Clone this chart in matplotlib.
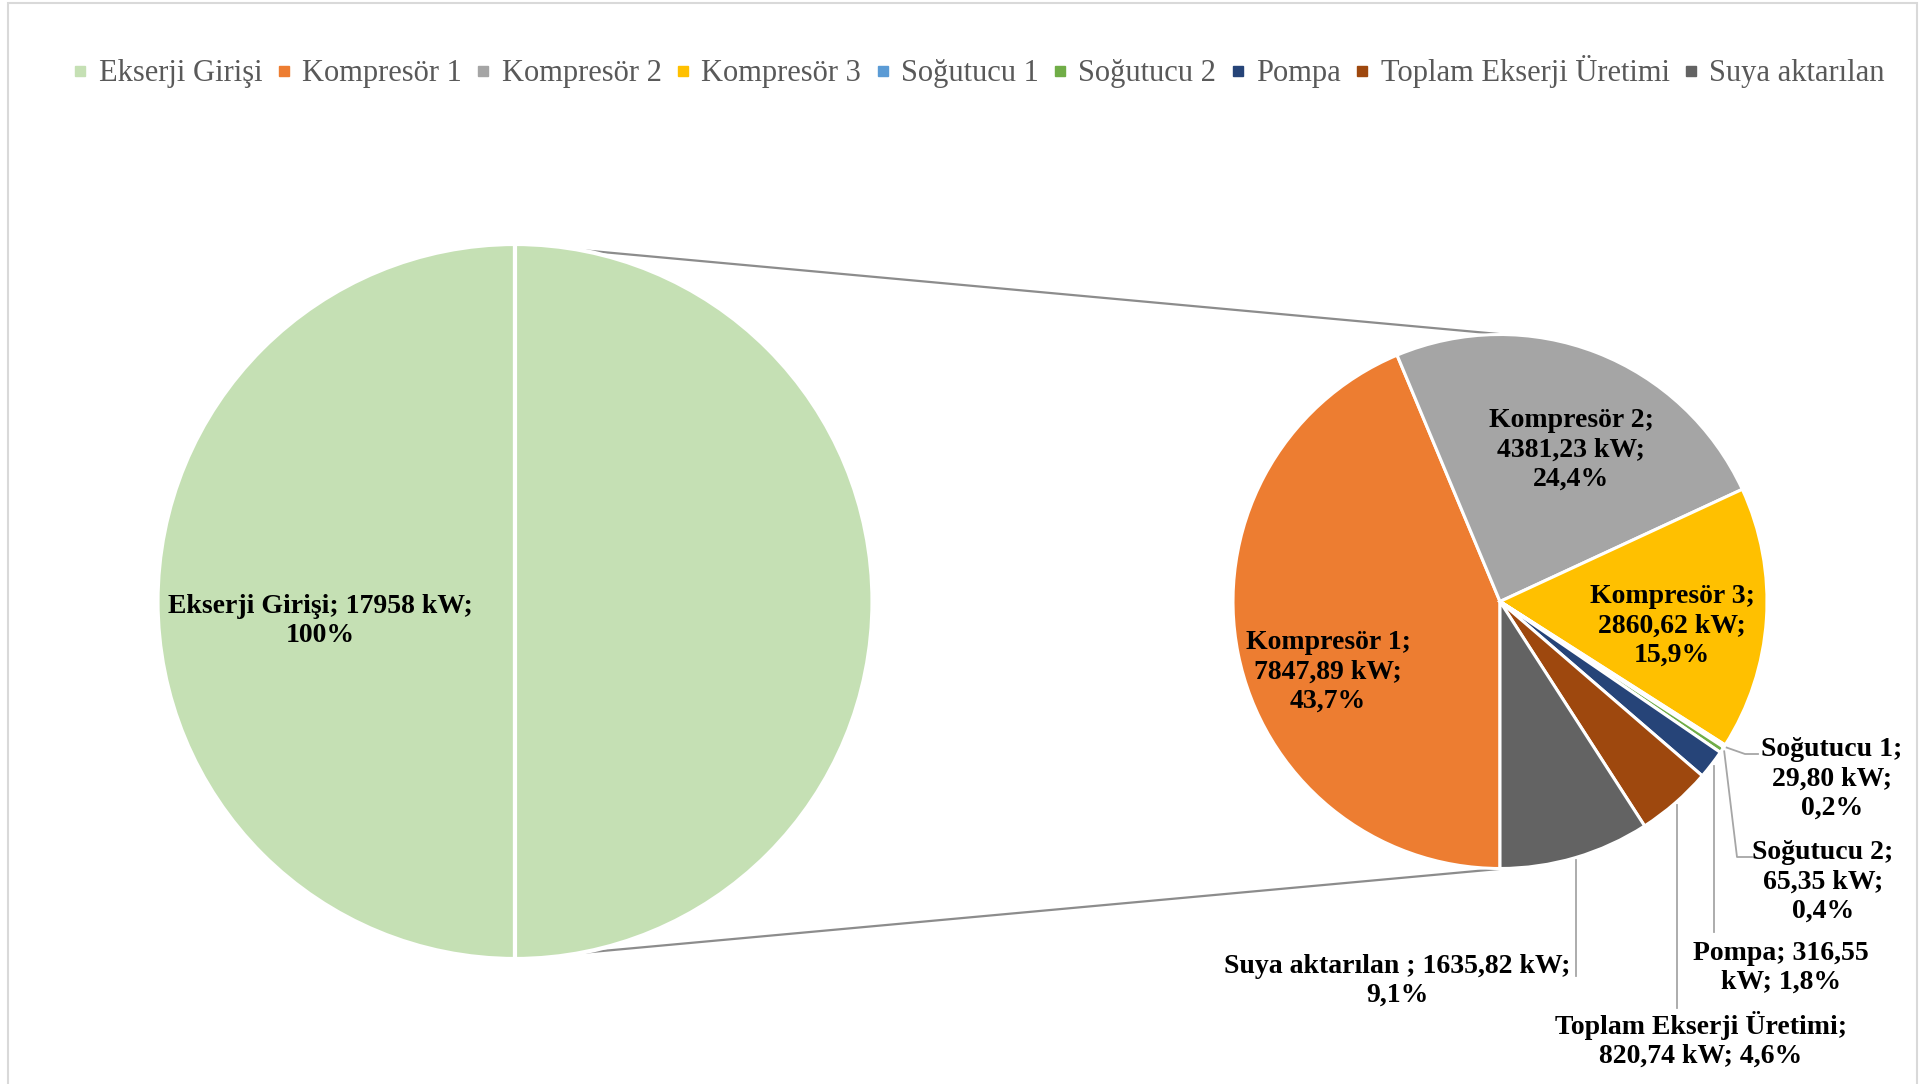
import textwrap
import numpy as np
import matplotlib
matplotlib.use('Agg')
import matplotlib.pyplot as plt
from matplotlib.lines import Line2D
from matplotlib.patches import Rectangle

plt.rcParams['font.family'] = ['Liberation Serif', 'DejaVu Serif']

# data
input_name = 'Ekserji Girişi'
input_kw = 17958
categories = ['Kompresör 1', 'Kompresör 2', 'Kompresör 3', 'Soğutucu 1',
              'Soğutucu 2', 'Pompa', 'Toplam Ekserji Üretimi', 'Suya aktarılan']
values_kw = [7847.89, 4381.23, 2860.62, 29.80, 65.35, 316.55, 820.74, 1635.82]
colors = ['#ED7D31', '#A5A5A5', '#FFC000', '#5B9BD5', '#70AD47',
          '#264478', '#9E480E', '#636363']
input_color = '#C5E0B4'

# figure laid out in pixel units (y measured from top of image)
W, H = 1932, 1084
fig = plt.figure(figsize=(W / 100, H / 100), dpi=100)
ax = fig.add_axes([0, 0, 1, 1])
ax.set_xlim(0, W)
ax.set_ylim(0, H)
ax.set_aspect('equal')
ax.axis('off')

def Y(y):
    return H - y

def num(v, dec=2):
    return f"{v:.{dec}f}".replace('.', ',')

# outer border
fig.patches.append(Rectangle((8 / W, -0.01), (1917 - 8) / W, (H - 3) / H + 0.01,
                             transform=fig.transFigure, fill=False,
                             edgecolor='#D9D9D9', linewidth=1.5))

# left pie: input vs the rest (both shown in the same colour)
lcx, lcy, lr = 515, 601.5, 357.5
ax.pie([input_kw, sum(values_kw)], colors=[input_color, input_color],
       center=(lcx, Y(lcy)), radius=lr, startangle=90,
       wedgeprops=dict(edgecolor='white', linewidth=3))

# right pie: breakdown
rcx, rcy, rr = 1500, 601.5, 267
ax.pie(values_kw, colors=colors, center=(rcx, Y(rcy)), radius=rr,
       startangle=-90, counterclock=False,
       wedgeprops=dict(edgecolor='white', linewidth=2.2))
ax.set_xlim(0, W)
ax.set_ylim(0, H)

# connector lines between the pies
a = np.deg2rad(10.5)
for s in (1, -1):
    x0 = lcx + lr * np.sin(a)
    y0 = Y(lcy) + s * lr * np.cos(a)
    ax.plot([x0, rcx + 4], [y0, Y(rcy) + s * rr], color='#8C8C8C', lw=1.6,
            solid_capstyle='butt', zorder=0)

total = sum(values_kw)
label_fmt = dict(fontsize=20, fontweight='bold', color='black',
                 ha='center', va='center', linespacing=1.22)

# left pie label
txt = textwrap.fill(f"{input_name}; {input_kw} kW; 100%", 25)
ax.text(320, Y(621), txt, **label_fmt)

# right pie labels: (wrap width, x, y)
label_pos = [(12, 1328, 672), (12, 1571, 450), (12, 1672, 626),
             (11, 1832, 779), (11, 1823, 882), (13, 1781, 968),
             (23, 1701, 1040), (28, 1397, 981)]
for name, v, (w, x, y) in zip(categories, values_kw, label_pos):
    nm = name + ' ' if name == 'Suya aktarılan' else name
    s = f"{nm}; {num(v)} kW; {num(v / total * 100, 1)}%"
    ax.text(x, Y(y), textwrap.fill(s, w), **label_fmt)

# leader lines for outside labels
frac = np.cumsum([0] + values_kw) / total
mids = (frac[:-1] + frac[1:]) / 2
ang = np.deg2rad(180 + mids * 360)   # compass angle, clockwise from top
ex = rcx + rr * 1.01 * np.sin(ang)
ey = rcy - rr * 1.01 * np.cos(ang)
leaders = {3: [(1745, 754), (1758, 754)],
           4: [(1737, 857), (1752, 857)],
           5: [(ex[5], 932)],
           6: [(ex[6], 1008)],
           7: [(ex[7], 976)]}
for i, pts in leaders.items():
    xs = [ex[i]] + [p[0] for p in pts]
    ys = [Y(ey[i])] + [Y(p[1]) for p in pts]
    ax.plot(xs, ys, color='#A6A6A6', lw=1.3)

# legend
handles = [Line2D([], [], marker='s', linestyle='none', markersize=7.5,
                  markerfacecolor=c, markeredgecolor=c)
           for c in [input_color] + colors]
leg = fig.legend(handles, [input_name] + categories, ncol=9, loc='center',
                 bbox_to_anchor=(978 / W, 1 - 72 / H), frameon=False,
                 fontsize=22, handlelength=0.6, handletextpad=0.3,
                 columnspacing=0.4)
for t in leg.get_texts():
    t.set_color('#595959')

fig.savefig('out.png', dpi=100, facecolor='white')
